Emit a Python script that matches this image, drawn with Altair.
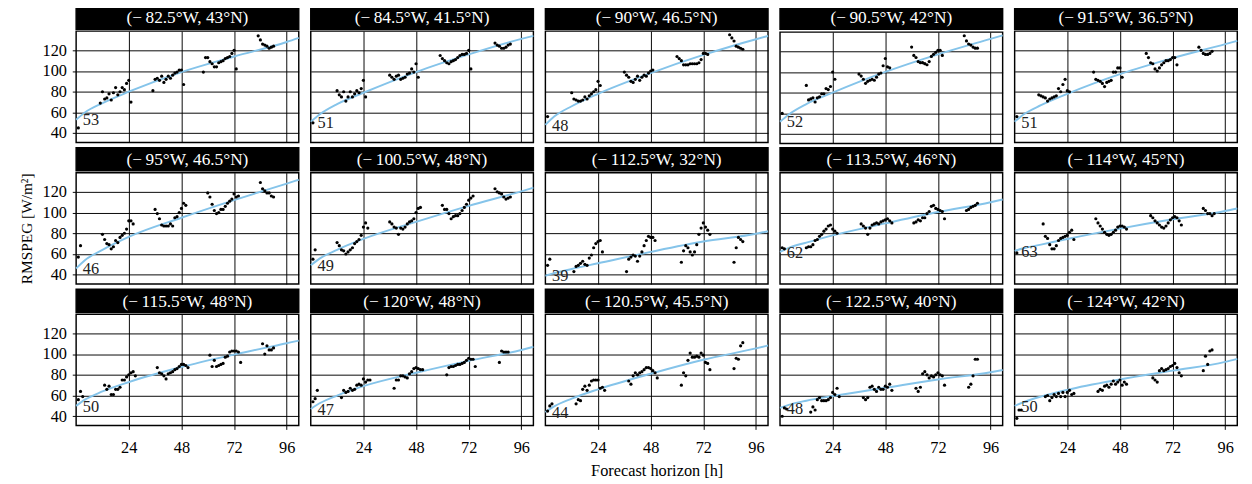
import altair as alt
import pandas as pd

FONT = "'Liberation Serif', 'Times New Roman', Times, 'DejaVu Serif', serif"

LON = ["82.5", "84.5", "90", "90.5", "91.5", "95", "100.5", "112.5", "113.5", "114",
       "115.5", "120", "120.5", "122.5", "124"]
LAT = ["43", "41.5", "46.5", "42", "36.5", "46.5", "48", "32", "46", "45",
       "48", "48", "45.5", "40", "42"]
INTERCEPTS = [53, 51, 48, 52, 51, 46, 49, 39, 62, 63, 50, 47, 44, 48, 50]

# observed RMSPEG per panel: {first horizon hour of a daylight run: values hour by hour}
P01 = {1: [45],
       11: [69, 80, 73, 74, 78, 72, 79, 84, 77, 80, 84, 82, 88, 91, 70],
       35: [81, 92, 93, 91, 95, 89, 92, 95, 93, 96, 98, 99, 101, 101, 87],
       58: [99, 113, 113, 109, 107, 104, 104, 108, 109, 110, 112, 113, 114, 117, 120, 102],
       83: [134, 130, 126, 125, 124, 122, 123, 124]}
P02 = {1: [50],
       12: [81, 77, 75, 80, 71, 75, 80, 75, 78, 81, 79, 83, 91, 75],
       36: [96, 94, 92, 95, 96, 92, 93, 94, 97, 98, 102, 99, 107, 94],
       59: [115, 112, 110, 108, 107, 109, 110, 111, 113, 115, 116, 116, 117, 120, 102],
       84: [127, 125, 124, 122, 122, 123, 125, 126]}
P03 = {1: [56],
       12: [79, 73, 72, 71, 71, 72, 75, 73, 76, 78, 80, 82, 90, 86],
       36: [99, 96, 94, 90, 89, 92, 95, 91, 94, 96, 95, 98, 100, 101],
       60: [114, 112, 110, 106, 106, 106, 107, 107, 107, 107, 108, 111, 117, 117, 116],
       84: [135, 132, 129, 124, 123, 122, 121]}
P04 = {1: [60],
       12: [87, 73, 74, 75, 71, 75, 76, 79, 79, 84, 83, 86, 100, 93],
       36: [98, 96, 93, 89, 91, 92, 93, 92, 95, 98, 99, 106, 113, 105, 104],
       60: [124, 116, 114, 110, 109, 109, 108, 107, 110, 115, 117, 119, 121, 121, 116],
       84: [135, 130, 127, 126, 124, 123, 123]}
P05 = {1: [56],
       11: [77, 76, 75, 74, 71, 73, 74, 75, 76, 83, 80, 87, 92, 81, 80],
       36: [99, 92, 91, 90, 88, 85, 89, 90, 91, 99, 99, 103, 103, 94],
       60: [117, 113, 108, 107, 102, 100, 103, 106, 108, 110, 110, 111, 113, 113, 106],
       84: [123, 120, 117, 116, 116, 117, 119]}
P06 = {1: [57, 68],
       12: [79, 74, 70, 69, 65, 67, 73, 71, 76, 78, 80, 84, 92, 92, 89],
       36: [103, 99, 94, 88, 87, 87, 87, 89, 87, 95, 96, 100, 104, 109, 107],
       60: [119, 115, 108, 102, 99, 100, 103, 103, 106, 109, 111, 113, 118, 115, 116],
       84: [129, 123, 121, 119, 119, 116, 115]}
P07 = {1: [55, 64],
       12: [71, 68, 64, 63, 60, 62, 64, 66, 70, 72, 74, 78, 86, 90, 85],
       36: [91, 89, 86, 85, 79, 85, 84, 86, 89, 91, 92, 94, 100, 104, 105],
       60: [107, 103, 103, 99, 94, 96, 97, 97, 99, 102, 105, 108, 112, 114, 116],
       84: [123, 120, 119, 118, 115, 113, 114, 115]}
P08 = {1: [49, 55],
       13: [43, 48, 49, 51, 53, 50, 49, 56, 59, 66, 70, 72, 73, 62],
       37: [43, 55, 57, 59, 58, 53, 58, 62, 68, 73, 77, 76, 76, 73],
       62: [52, 63, 68, 66, 62, 59, 62, 69, 79, 85, 90, 86, 83, 79],
       86: [52, 66, 76, 74, 72]}
P09 = {1: [66, 65],
       12: [66, 67, 67, 69, 73, 74, 77, 79, 82, 84, 87, 88, 84, 82, 80],
       37: [89, 87, 85, 79, 85, 88, 89, 90, 89, 91, 92, 93, 94, 92, 90],
       61: [90, 91, 93, 92, 95, 95, 99, 101, 106, 107, 104, 103, 102, 101, 94],
       85: [102, 103, 105, 106, 107, 109]}
P10 = {1: [61],
       13: [89, 77, 75, 69, 65, 65, 68, 73, 75, 76, 77, 78, 81, 83, 74],
       37: [94, 90, 87, 84, 81, 79, 78, 79, 81, 83, 86, 87, 87, 86, 84],
       62: [97, 95, 92, 90, 88, 86, 85, 87, 90, 93, 95, 96, 95, 92, 88],
       86: [104, 102, 99, 99, 97, 99]}
P11 = {1: [56, 64, 59],
       13: [70, 66, 69, 61, 61, 66, 66, 68, 75, 75, 78, 80, 82, 83, 79],
       37: [87, 82, 81, 79, 76, 81, 82, 83, 85, 86, 88, 90, 90, 89, 87],
       61: [99, 88, 94, 88, 89, 90, 91, 97, 98, 102, 103, 103, 103, 102, 92],
       85: [110, 100, 108, 104, 104, 106]}
P12 = {1: [54, 57, 65],
       14: [58, 65, 63, 64, 67, 65, 66, 70, 71, 70, 76, 73, 75, 75],
       38: [67, 75, 75, 79, 79, 78, 77, 81, 83, 86, 87, 86, 85, 85],
       62: [80, 87, 88, 88, 89, 90, 90, 91, 92, 94, 96, 95, 95, 88],
       86: [92, 103, 102, 102, 102]}
P13 = {1: [45, 50, 52],
       14: [52, 56, 55, 66, 69, 65, 70, 74, 75, 75, 75, 67, 68, 65],
       38: [74, 71, 79, 82, 80, 82, 83, 85, 87, 87, 86, 84, 82, 77],
       62: [70, 82, 79, 94, 101, 97, 97, 98, 97, 101, 99, 92, 91, 85],
       86: [86, 96, 95, 108, 111]}
P14 = {1: [40, 48, 47],
       14: [44, 49, 46, 56, 58, 55, 55, 55, 56, 58, 63, 61, 67, 59],
       38: [58, 56, 58, 68, 69, 66, 64, 68, 66, 66, 69, 68, 71, 65],
       62: [67, 64, 68, 81, 83, 80, 77, 79, 78, 80, 82, 80, 79, 70],
       86: [68, 71, 79, 95, 95]}
P15 = {1: [38, 46, 46],
       14: [59, 60, 55, 58, 61, 59, 62, 59, 63, 59, 63, 65, 61, 62],
       38: [64, 66, 65, 69, 70, 68, 71, 74, 71, 73, 75, 70, 73, 71],
       63: [77, 75, 73, 84, 86, 84, 85, 86, 88, 89, 91, 87, 82, 79],
       86: [84, 98, 90, 103, 104]}
POINTS = [P01, P02, P03, P04, P05, P06, P07, P08, P09, P10, P11, P12, P13, P14, P15]

# fitted curve at these horizons
FIT_H = [0, 4, 12, 24, 48, 72, 96, 101.5]
FITS = [
    [53, 60, 69, 80, 99, 114, 128, 132],
    [51, 58, 68, 79, 99, 116, 131, 134],
    [48, 56, 66, 78, 98, 115.5, 130.7, 133.8],
    [52, 59, 69, 80, 100, 117, 132, 135.4],
    [51, 58, 67, 78, 97, 112.5, 126, 129.2],
    [46, 54, 64, 76.5, 95, 112, 128, 131.7],
    [49, 55.5, 64, 74.5, 91, 106.5, 120.5, 124],
    [39, 41.5, 45.5, 51, 62, 72, 79.5, 82],
    [62, 66, 71, 78, 89.5, 100.5, 110, 112.6],
    [63, 65.5, 69, 74.5, 84.5, 93.5, 101.5, 104],
    [50, 56, 64, 73, 87.5, 99.5, 110.5, 113],
    [47, 52.5, 60, 69, 82, 93.5, 104, 107],
    [44, 49.5, 57, 66, 81, 94.5, 105.5, 108.3],
    [48, 51, 55, 59.5, 67.5, 75.5, 82.5, 84.6],
    [50, 53.5, 59, 65.5, 75.5, 84, 92.5, 95.4],
]

X_TICKS = [24, 48, 72, 96]
Y_TICKS = [40, 60, 80, 100, 120]
X_DOMAIN = [0, 101.5]
Y_DOMAIN = [31, 138.5]

W, H, HH = 232, 116, 24


def make_panel(i):
    row, col = divmod(i, 5)
    hs, vs = [], []
    for start, vals in POINTS[i].items():
        for k, v in enumerate(vals):
            hs.append(start + k)
            vs.append(v)
    pts = pd.DataFrame({"h": hs, "v": vs})
    fit = pd.DataFrame({"h": FIT_H, "v": FITS[i]})
    lab = pd.DataFrame({"h": [0], "v": [INTERCEPTS[i]], "t": [str(INTERCEPTS[i])]})

    bottom = row == 2
    left = col == 0
    xs = alt.Scale(domain=X_DOMAIN, nice=False, zero=False)
    ys = alt.Scale(domain=Y_DOMAIN, nice=False, zero=False)
    if bottom:
        if col == 2:
            xa = alt.Axis(values=X_TICKS, grid=True, title="Forecast horizon [h]")
        else:
            xa = alt.Axis(values=X_TICKS, grid=True, title=None)
    else:
        xa = alt.Axis(values=X_TICKS, grid=True, labels=False, ticks=False, title=None)
    if left:
        ya = alt.Axis(values=Y_TICKS, grid=True, title="RMSPEG [W/m²]",
                      titleOpacity=1 if row == 1 else 0)
    else:
        ya = alt.Axis(values=Y_TICKS, grid=True, labels=False, ticks=False, title=None)

    xe = alt.X("h:Q", scale=xs, axis=xa)
    ye = alt.Y("v:Q", scale=ys, axis=ya)

    line = alt.Chart(fit).mark_line(color="#85C4EA", strokeWidth=2,
                                    interpolate="monotone").encode(x=xe, y=ye)
    dots = alt.Chart(pts).mark_circle(size=11, color="black", opacity=1).encode(x=xe, y=ye)
    txt = alt.Chart(lab).mark_text(align="left", baseline="middle", dx=7, dy=1,
                                   font=FONT, fontSize=17, color="#222222").encode(
        x=xe, y=ye, text="t:N")
    plot = alt.layer(line, dots, txt).properties(width=W, height=H)

    title = f"(\u2212\u2009{LON[i]}°W, {LAT[i]}°N)"
    hdf = pd.DataFrame({"t": [title]})
    rect = alt.Chart(hdf).mark_rect(color="black").encode(
        x=alt.value(0), x2=alt.value(W), y=alt.value(0), y2=alt.value(HH))
    htxt = alt.Chart(hdf).mark_text(color="white", font=FONT, fontSize=18,
                                    align="center", baseline="middle").encode(
        x=alt.value(W / 2), y=alt.value(HH / 2 + 1), text="t:N")
    header = alt.layer(rect, htxt).properties(width=W, height=HH)
    return alt.vconcat(header, plot, spacing=0)


rows = []
for r in range(3):
    rows.append(alt.hconcat(*[make_panel(r * 5 + c) for c in range(5)], spacing=2.5))

chart = alt.vconcat(*rows, spacing=2.5).properties(
    padding={"left": 10, "top": -13, "right": 2, "bottom": 0}
).configure_view(
    stroke="black", strokeWidth=1.5
).configure_axis(
    domain=False, gridColor="black", gridWidth=1, gridOpacity=1,
    labelFont=FONT, labelFontSize=17, labelColor="black",
    titleFont=FONT, titleFontSize=16, titleColor="black", titleFontWeight="normal",
    tickColor="black", tickSize=4, tickWidth=1
).configure_axisX(
    labelPadding=11, titlePadding=8, titleFontSize=17
).configure_axisY(
    labelPadding=6, titlePadding=8
)

chart.save("out.html", embed_options={"renderer": "svg", "actions": False})
